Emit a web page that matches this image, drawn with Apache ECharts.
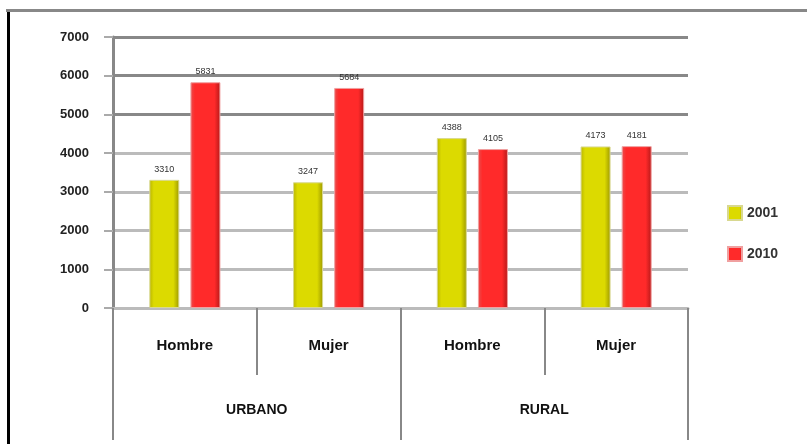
<!DOCTYPE html>
<html>
<head>
<meta charset="utf-8">
<script src="https://cdn.jsdelivr.net/npm/echarts@6/dist/echarts.min.js"></script>
<style>
  html, body { margin: 0; padding: 0; background: #fff; }
  #chart { width: 807px; height: 444px; }
</style>
</head>
<body>
<div id="chart"></div>
<script>
// categories (two levels)
var categories = ['Hombre', 'Mujer', 'Hombre', 'Mujer']
var groups = ['URBANO', 'RURAL']
var seriesNames = ['2001', '2010']
var values2001 = [3310, 3247, 4388, 4173]
var values2010 = [5831, 5684, 4105, 4181]

var chart = echarts.init(document.getElementById('chart'))

function barGradient (left, mid, right) {
  return new echarts.graphic.LinearGradient(0, 0, 1, 0, [
    { offset: 0, color: left },
    { offset: 0.15, color: mid },
    { offset: 0.8, color: mid },
    { offset: 1, color: right }
  ])
}

var yellow = barGradient('#b8b400', '#dcda00', '#9c9800')
var red = barGradient('#e85050', '#ff2a2a', '#b41818')

chart.setOption({
  animation: false,
  textStyle: { fontFamily: 'Liberation Sans, Arial, sans-serif' },
  grid: { left: 113, right: 119, top: 37, bottom: 136, containLabel: false },
  legend: {
    orient: 'vertical',
    left: 722,
    top: 200,
    itemWidth: 14,
    itemHeight: 14,
    itemGap: 25,
    icon: 'rect',
    textStyle: { fontSize: 14, color: '#333', fontWeight: 'bold' },
    data: seriesNames
  },
  xAxis: [{
    type: 'category',
    data: categories,
    axisLine: { lineStyle: { color: '#bbb', width: 3 } },
    axisTick: { show: true, length: 67, interval: 0, lineStyle: { color: '#888', width: 2 } },
    axisLabel: { margin: 30, fontSize: 15, fontWeight: 'bold', color: '#111' }
  }, {
    type: 'category',
    position: 'bottom',
    data: groups,
    axisLine: { show: false },
    axisTick: { show: true, length: 132, interval: 0, lineStyle: { color: '#888', width: 2 } },
    axisLabel: { margin: 95, fontSize: 14, fontWeight: 'bold', color: '#111' }
  }],
  yAxis: {
    type: 'value',
    min: 0,
    max: 7000,
    interval: 1000,
    axisLine: { show: true, lineStyle: { color: '#888', width: 3 } },
    axisTick: { show: true, length: 9, lineStyle: { color: '#aaa', width: 2 } },
    axisLabel: {
      margin: 24,
      fontSize: 13,
      fontWeight: 'bold',
      color: '#222',
      formatter: function (value) {
        return String(value)
      }
    },
    splitLine: {
      lineStyle: {
        color: ['#bbb', '#bbb', '#bbb', '#bbb', '#bbb', '#888', '#888', '#888'],
        width: 3
      }
    }
  },
  series: [{
    name: '2001',
    type: 'bar',
    data: values2001,
    barWidth: 30,
    barGap: '37%',
    itemStyle: { color: yellow, borderColor: '#d8d890', borderWidth: 1 },
    label: { show: true, position: 'top', distance: 6, fontSize: 9, color: '#333' }
  }, {
    name: '2010',
    type: 'bar',
    data: values2010,
    barWidth: 30,
    itemStyle: { color: red, borderColor: '#f0a0a0', borderWidth: 1 },
    label: { show: true, position: 'top', distance: 6, fontSize: 9, color: '#333' }
  }],
  graphic: [
    { type: 'rect', shape: { x: 6, y: 9, width: 801, height: 3 }, style: { fill: '#888' } },
    { type: 'rect', shape: { x: 7, y: 12, width: 3, height: 432 }, style: { fill: '#000' } }
  ]
})
</script>
</body>
</html>
